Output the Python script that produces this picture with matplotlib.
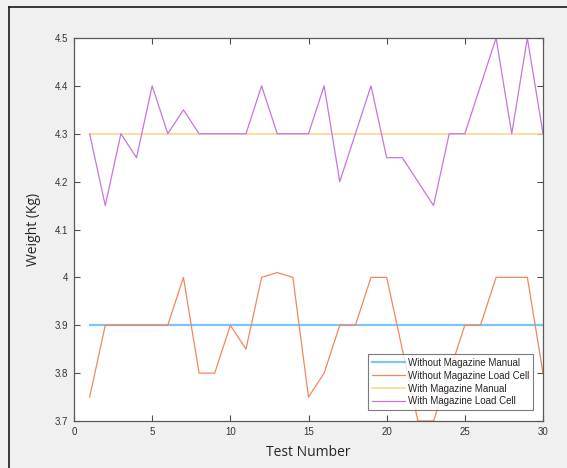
import numpy as np
import matplotlib
import matplotlib.pyplot as plt
from matplotlib.lines import Line2D

matplotlib.use('Agg')

# Test numbers 1..30
tests = list(range(1, 31))

without_mag_manual = [3.9] * 30
without_mag_loadcell = [3.75, 3.9, 3.9, 3.9, 3.9, 3.9, 4.0, 3.8, 3.8, 3.9,
                        3.85, 4.0, 4.01, 4.0, 3.75, 3.8, 3.9, 3.9, 4.0, 4.0,
                        3.85, 3.7, 3.7, 3.8, 3.9, 3.9, 4.0, 4.0, 4.0, 3.8]
with_mag_manual = [4.3] * 30
with_mag_loadcell = [4.3, 4.15, 4.3, 4.25, 4.4, 4.3, 4.35, 4.3, 4.3, 4.3,
                     4.3, 4.4, 4.3, 4.3, 4.3, 4.4, 4.2, 4.3, 4.4, 4.25,
                     4.25, 4.2, 4.15, 4.3, 4.3, 4.4, 4.5, 4.3, 4.5, 4.3]

labels = ['Without Magazine Manual', 'Without Magazine Load Cell',
          'With Magazine Manual', 'With Magazine Load Cell']
colors = ['#80c4f2', '#f2875a', '#fcd98a', '#c774e0']

plt.rcParams['font.family'] = ['Liberation Sans', 'DejaVu Sans']

fig = plt.figure(figsize=(5.67, 4.68), dpi=100)
fig.patch.set_facecolor('#f0f0f0')

# screenshot frame, only left and top edges are visible
fx, fy = 9 / 567, 1 - 7 / 468
fig.lines.append(Line2D([fx, fx], [0, fy], transform=fig.transFigure,
                        color='#1a1a1a', linewidth=1.2))
fig.lines.append(Line2D([fx, 1], [fy, fy], transform=fig.transFigure,
                        color='#1a1a1a', linewidth=1.2))

ax = fig.add_axes([74 / 567, 1 - 421 / 468, 469 / 567, 383 / 468])
ax.set_facecolor('white')

ax.plot(tests, without_mag_manual, color=colors[0], linewidth=1.6, label=labels[0])
ax.plot(tests, without_mag_loadcell, color=colors[1], linewidth=0.9, label=labels[1])
ax.plot(tests, with_mag_manual, color=colors[2], linewidth=1.2, label=labels[2])
ax.plot(tests, with_mag_loadcell, color=colors[3], linewidth=0.9, label=labels[3])

ax.set_xlim(0, 30)
ax.set_ylim(3.7, 4.5)
ax.set_xticks(np.arange(0, 31, 5))
ax.set_yticks(np.round(np.arange(3.7, 4.51, 0.1), 1))
ax.set_yticklabels(['3.7', '3.8', '3.9', '4', '4.1', '4.2', '4.3', '4.4', '4.5'])
ax.tick_params(direction='in', length=4, width=0.8, colors='#4d4d4d',
               labelcolor='#333333', labelsize=7, top=True, right=True, pad=4)
for s in ax.spines.values():
    s.set_color('#5a5a5a')
    s.set_linewidth(0.9)

ax.set_xlabel('Test Number', family=['Open Sans', 'DejaVu Sans'], fontsize=10,
              color='#262626', labelpad=6)
ax.set_ylabel('Weight (Kg)', family=['Open Sans', 'DejaVu Sans'], fontsize=10,
              color='#262626', labelpad=10)

leg = ax.legend(loc='lower right', bbox_to_anchor=(0.979, 0.029), fontsize=7,
                frameon=True, fancybox=False, edgecolor='#5a5a5a',
                handlelength=3.4, handletextpad=0.4, labelspacing=0.3,
                borderpad=0.35, borderaxespad=0)
leg.get_frame().set_linewidth(0.8)
for t in leg.get_texts():
    t.set_color('#262626')

fig.savefig('out.png', dpi=100, facecolor=fig.get_facecolor())
